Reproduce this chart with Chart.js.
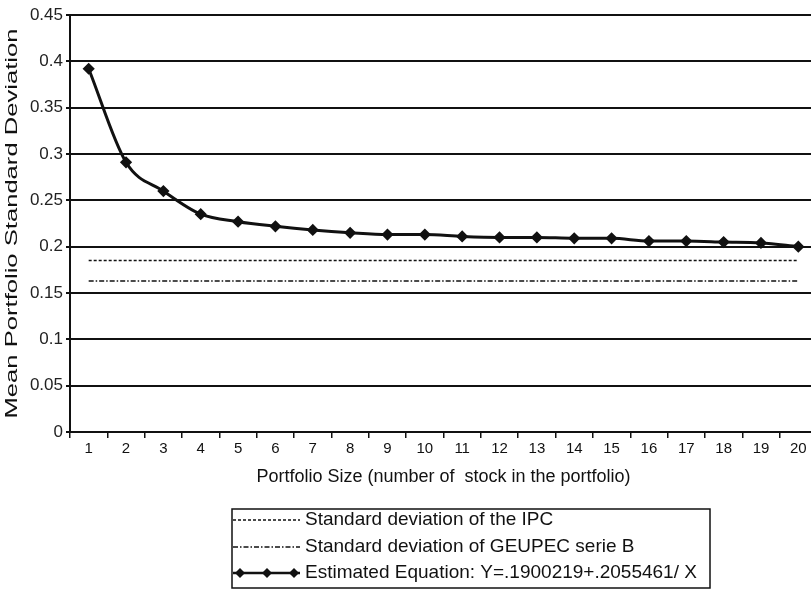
<!DOCTYPE html>
<html>
<head>
<meta charset="utf-8">
<script src="https://cdn.jsdelivr.net/npm/chart.js@4.4.1/dist/chart.umd.min.js"></script>
<style>
  html, body { margin: 0; padding: 0; background: #fff; overflow: hidden; }
  #wrap { width: 824px; height: 589px; }
</style>
</head>
<body>
<div id="wrap"><canvas id="chart"></canvas></div>
<script>
// values
const portfolioSizes = ["1", "2", "3", "4", "5", "6", "7", "8", "9", "10",
  "11", "12", "13", "14", "15", "16", "17", "18", "19", "20"];
const estimatedStd = [0.392, 0.291, 0.260, 0.235, 0.227, 0.222, 0.218, 0.215, 0.213, 0.213,
  0.211, 0.210, 0.210, 0.209, 0.209, 0.206, 0.206, 0.205, 0.204, 0.200];
const ipcStd = [0.185, 0.185, 0.185, 0.185, 0.185, 0.185, 0.185, 0.185, 0.185, 0.185,
  0.185, 0.185, 0.185, 0.185, 0.185, 0.185, 0.185, 0.185, 0.185, 0.185];
const geupecStd = [0.163, 0.163, 0.163, 0.163, 0.163, 0.163, 0.163, 0.163, 0.163, 0.163,
  0.163, 0.163, 0.163, 0.163, 0.163, 0.163, 0.163, 0.163, 0.163, 0.163];
const yTicks = [0, 0.05, 0.1, 0.15, 0.2, 0.25, 0.3, 0.35, 0.4, 0.45];
const legendLabels = [
  "Standard deviation of the IPC",
  "Standard deviation of GEUPEC serie B",
  "Estimated Equation: Y=.1900219+.2055461/ X"
];
const yTitleText = "Mean Portfolio Standard Deviation";
const xTitleText = "Portfolio Size (number of  stock in the portfolio)";

const FONT = '"Liberation Sans", Arial, sans-serif';
const INK = "#111";
const IPC_DASH = [3, 2];
const GEUPEC_DASH = [5, 2, 1.5, 2];

function diamond(ctx, x, y, r) {
  ctx.beginPath();
  ctx.moveTo(x, y - r);
  ctx.lineTo(x + r, y);
  ctx.lineTo(x, y + r);
  ctx.lineTo(x - r, y);
  ctx.closePath();
  ctx.fill();
}

// the y title in the scan is stretched along its length, so draw it by hand
const yTitle = {
  id: "yTitle",
  afterDraw(chart) {
    const { ctx, chartArea } = chart;
    ctx.save();
    ctx.translate(13, (chartArea.top + chartArea.bottom) / 2);
    ctx.rotate(-Math.PI / 2);
    ctx.scale(1.6, 1);
    ctx.fillStyle = INK;
    ctx.font = "16px " + FONT;
    ctx.textAlign = "center";
    ctx.textBaseline = "middle";
    ctx.fillText(yTitleText, 0, 0);
    ctx.restore();
  }
};

// legend drawn by hand so the line samples look like the original
const boxLegend = {
  id: "boxLegend",
  afterDraw(chart) {
    const ctx = chart.ctx;
    ctx.save();
    ctx.strokeStyle = INK;
    ctx.lineWidth = 1.5;
    ctx.strokeRect(232, 509, 478, 79);

    const rows = [520, 547, 573];
    const x1 = 233, x2 = 300;
    ctx.fillStyle = INK;
    ctx.font = "19px " + FONT;
    ctx.textBaseline = "middle";

    ctx.lineWidth = 1.5;
    ctx.setLineDash(IPC_DASH);
    ctx.beginPath(); ctx.moveTo(x1, rows[0]); ctx.lineTo(x2, rows[0]); ctx.stroke();
    ctx.setLineDash(GEUPEC_DASH);
    ctx.beginPath(); ctx.moveTo(x1, rows[1]); ctx.lineTo(x2, rows[1]); ctx.stroke();
    ctx.setLineDash([]);
    ctx.lineWidth = 2.5;
    ctx.beginPath(); ctx.moveTo(x1, rows[2]); ctx.lineTo(x2, rows[2]); ctx.stroke();
    [240, 267, 294].forEach(x => diamond(ctx, x, rows[2], 5));

    legendLabels.forEach((t, i) => ctx.fillText(t, 305, rows[i]));
    ctx.restore();
  }
};

new Chart(document.getElementById("chart"), {
  type: "line",
  data: {
    labels: portfolioSizes,
    datasets: [
      {
        label: legendLabels[2],
        data: estimatedStd,
        borderColor: INK,
        backgroundColor: INK,
        borderWidth: 3,
        pointStyle: "rectRot",
        pointRadius: 4,
        pointBackgroundColor: INK,
        pointBorderColor: INK,
        cubicInterpolationMode: "monotone"
      },
      {
        label: legendLabels[0],
        data: ipcStd,
        borderColor: INK,
        borderWidth: 1.6,
        borderDash: IPC_DASH,
        pointRadius: 0
      },
      {
        label: legendLabels[1],
        data: geupecStd,
        borderColor: INK,
        borderWidth: 1.6,
        borderDash: GEUPEC_DASH,
        pointRadius: 0
      }
    ]
  },
  options: {
    responsive: true,
    maintainAspectRatio: false,
    animation: false,
    layout: { padding: { top: 15, right: 0, bottom: 101, left: 0 } },
    plugins: { legend: { display: false }, tooltip: { enabled: false } },
    scales: {
      x: {
        offset: true,
        afterFit: s => { s.height = 56; },
        grid: { display: true, drawOnChartArea: false, offset: true, color: INK, tickLength: 6, lineWidth: 1.5 },
        border: { color: INK, width: 2 },
        ticks: { color: INK, font: { family: FONT, size: 15 }, padding: 2, maxRotation: 0, autoSkip: false },
        title: {
          display: true,
          text: xTitleText,
          color: INK,
          font: { family: FONT, size: 18 },
          padding: { top: 2, bottom: 0 }
        }
      },
      y: {
        min: 0,
        max: 0.45,
        afterFit: s => { s.width = 70; },
        afterBuildTicks: s => { s.ticks = yTicks.map(v => ({ value: v })); },
        grid: { color: INK, lineWidth: 2, tickLength: 4 },
        border: { color: INK, width: 2 },
        ticks: {
          color: "#222",
          font: { family: FONT, size: 17 },
          padding: 3,
          callback: v => String(+v.toFixed(2))
        }
      }
    }
  },
  plugins: [yTitle, boxLegend]
});
</script>
</body>
</html>
